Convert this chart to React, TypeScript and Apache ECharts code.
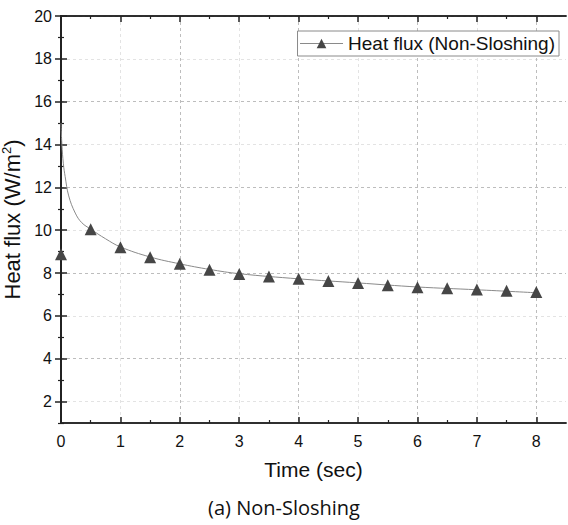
import React, { useEffect, useRef } from "react";
import * as echarts from "echarts";

const seriesName = "Heat flux (Non-Sloshing)";
const markerTimes = [0, 0.5, 1, 1.5, 2, 2.5, 3, 3.5, 4, 4.5, 5, 5.5, 6, 6.5, 7, 7.5, 8];
const markerFlux = [8.88, 10.05, 9.21, 8.74, 8.43, 8.16, 7.96, 7.84, 7.73, 7.63, 7.54, 7.43, 7.34, 7.29, 7.23, 7.17, 7.11];
const curveTimes = [0, 0.015, 0.04, 0.07, 0.13, 0.24, 0.35, 0.5, 0.75, 1, 1.5, 2, 2.5, 3, 4, 5, 6, 7, 8];
const curveFlux = [15.0, 14.0, 13.1, 12.5, 11.6, 10.8, 10.35, 10.05, 9.6, 9.22, 8.75, 8.43, 8.17, 7.97, 7.73, 7.54, 7.35, 7.22, 7.08];
const xMajor = [0, 1, 2, 3, 4, 5, 6, 7, 8];
const xMinor = [0.5, 1.5, 2.5, 3.5, 4.5, 5.5, 6.5, 7.5];
const yMajor = [2, 4, 6, 8, 10, 12, 14, 16, 18, 20];
const yMinor = [1, 3, 5, 7, 9, 11, 13, 15, 17, 19];
const caption = "(a) Non-Sloshing";

const FONT = "Liberation Sans, Arial, sans-serif";
const AX = "#222";

export default function App() {
  const ref = useRef<HTMLDivElement>(null);
  useEffect(() => {
    if (!ref.current) return;
    const chart = echarts.init(ref.current, null, { renderer: "svg" });
    const baseX = {
      type: "value" as const,
      min: 0,
      max: 8.5,
      interval: 0.5,
      axisLine: { show: true, lineStyle: { color: AX, width: 1.5 } },
      splitLine: { show: false },
      axisLabel: { show: false },
    };
    const baseY = {
      type: "value" as const,
      min: 1,
      max: 20,
      interval: 1,
      axisLine: { show: true, lineStyle: { color: AX, width: 1.5 } },
      splitLine: { show: false },
      axisLabel: { show: false },
    };
    const majorTick = (vals: number[]) => ({ show: true, inside: true, length: 6, customValues: vals, lineStyle: { color: AX, width: 1.5 } });
    const minorTick = (vals: number[]) => ({ show: true, inside: true, length: 3, customValues: vals, lineStyle: { color: AX, width: 1.2 } });

    chart.setOption({
      animation: false,
      backgroundColor: "#fff",
      grid: { left: 61, top: 16, right: 2, bottom: 102, containLabel: false, outerBoundsMode: "none" },
      legend: {
        data: [seriesName],
        right: 9,
        top: 31,
        padding: [3, 4, 3, 2],
        borderColor: "#8a8a8a",
        borderWidth: 1,
        backgroundColor: "#fff",
        itemWidth: 43,
        itemHeight: 12,
        itemGap: 6,
        textStyle: { fontFamily: FONT, fontSize: 19, color: "#111" },
        lineStyle: { color: "#8a8a8a", width: 1, opacity: 1 },
      },
      xAxis: [
        {
          ...baseX,
          position: "bottom",
          axisTick: majorTick(xMajor),
          axisLabel: { show: true, customValues: xMajor, fontFamily: FONT, fontSize: 16, color: "#111", margin: 10 },
          splitLine: { show: true, lineStyle: { color: ["#bdbdbd", "#e3e3e3"], type: [3, 3], width: 1 } },
          name: "Time (sec)",
          nameLocation: "middle",
          nameGap: 36,
          nameTextStyle: { fontFamily: FONT, fontSize: 21, color: "#111" },
        },
        { ...baseX, position: "bottom", axisTick: minorTick(xMinor) },
        { ...baseX, position: "top", axisTick: majorTick(xMajor) },
        { ...baseX, position: "top", axisTick: minorTick(xMinor) },
      ],
      yAxis: [
        {
          ...baseY,
          position: "left",
          axisTick: majorTick(yMajor),
          axisLabel: { show: true, customValues: yMajor, fontFamily: FONT, fontSize: 16, color: "#111", margin: 9 },
          splitLine: { show: true, lineStyle: { color: ["#e3e3e3", "#bdbdbd"], type: [3, 3], width: 1 } },
          name: "Heat flux (W/m{sup|2})",
          nameLocation: "middle",
          nameGap: 33,
          nameTextStyle: {
            fontFamily: FONT,
            fontSize: 22,
            color: "#111",
            rich: { sup: { fontFamily: FONT, fontSize: 13, color: "#111", padding: [0, 0, 11, 0] } },
          },
        },
        { ...baseY, position: "left", axisTick: minorTick(yMinor) },
        { ...baseY, position: "right", axisTick: majorTick(yMajor) },
        { ...baseY, position: "right", axisTick: minorTick(yMinor) },
      ],
      series: [
        {
          name: "fit",
          type: "line",
          data: curveTimes.map((t, i) => [t, curveFlux[i]]),
          smooth: 0.4,
          showSymbol: false,
          symbol: "none",
          silent: true,
          lineStyle: { color: "#8a8a8a", width: 1 },
          z: 2,
        },
        {
          name: seriesName,
          type: "line",
          data: markerTimes.map((t, i) => [t, markerFlux[i]]),
          symbol: "triangle",
          symbolSize: 12,
          showSymbol: true,
          itemStyle: { color: "#464646" },
          lineStyle: { width: 0, opacity: 0, color: "#8a8a8a" },
          z: 3,
        },
      ],
      graphic: [
        {
          type: "text",
          left: "center",
          x: 286,
          y: 497,
          style: {
            text: caption,
            fontFamily: "Open Sans, Noto Sans, sans-serif",
            fontSize: 20,
            fill: "#111",
          },
        },
      ],
    });
    return () => chart.dispose();
  }, []);
  return <div ref={ref} style={{ width: 568, height: 525, position: "absolute", left: 0, top: 0 }} />;
}
